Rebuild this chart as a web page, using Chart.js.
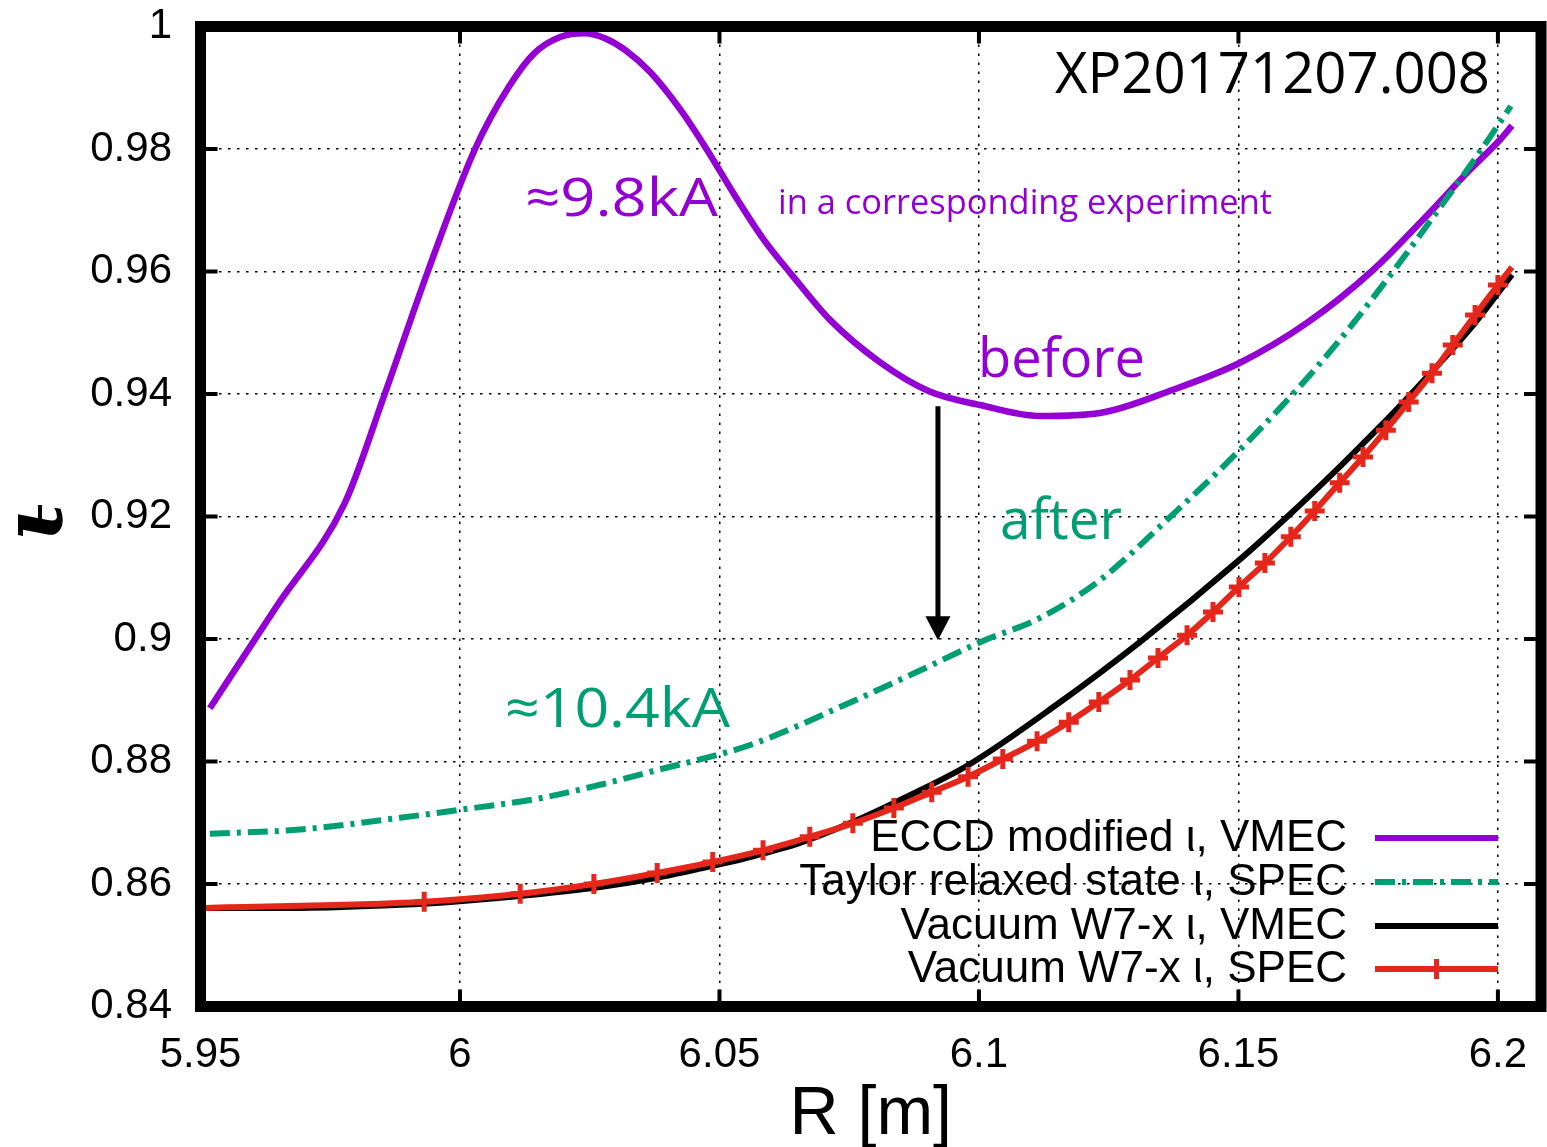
<!DOCTYPE html>
<html>
<head>
<meta charset="utf-8">
<title>W7-X rotational transform profiles</title>
<script src="https://cdn.jsdelivr.net/npm/chart.js@4.4.1/dist/chart.umd.min.js"></script>
<style>
  html, body { margin: 0; padding: 0; background: #fff; }
  #wrap { width: 1547px; height: 1147px; }
</style>
</head>
<body>
<div id="wrap"><canvas id="iota" width="1547" height="1147"></canvas></div>
<script>
/* ----------------------------------------------------
   DATA
---------------------------------------------------- */
const xTicks = [5.95, 6.0, 6.05, 6.1, 6.15, 6.2];
const yTicks = [0.84, 0.86, 0.88, 0.90, 0.92, 0.94, 0.96, 0.98, 1.0];

const seriesLabels = [
    'ECCD modified \u03b9, VMEC',
    'Taylor relaxed state \u03b9, SPEC',
    'Vacuum W7-x \u03b9, VMEC',
    'Vacuum W7-x \u03b9, SPEC'
];

// ECCD modified iota, VMEC
const eccdR = [5.9518, 5.9648, 5.9778, 5.9855, 5.9938, 6.0029, 6.0096, 6.0144, 6.0193, 6.0241,
    6.0279, 6.0318, 6.0366, 6.0424, 6.0475, 6.0529, 6.0587, 6.0639, 6.0713, 6.0809,
    6.0905, 6.1002, 6.1118, 6.1233, 6.1374, 6.1503, 6.1632, 6.1759, 6.1855, 6.1946,
    6.2004, 6.2027];
const eccdIota = [0.8887, 0.9055, 0.9222, 0.9400, 0.9600, 0.9800, 0.9904, 0.9957, 0.9983, 0.9989,
    0.9981, 0.9962, 0.9926, 0.9865, 0.9800, 0.9725, 0.9650, 0.9595, 0.9521, 0.9452,
    0.9404, 0.9382, 0.9364, 0.9369, 0.9407, 0.9451, 0.9516, 0.9602, 0.9684, 0.9766,
    0.9815, 0.9838];

// Taylor relaxed state iota, SPEC
const taylorR = [5.9518, 5.9692, 5.9884, 5.9999, 6.0154, 6.0270, 6.0366, 6.0559, 6.0751, 6.0880,
    6.1011, 6.1117, 6.1233, 6.1368, 6.1483, 6.1605, 6.1695, 6.1798, 6.1888, 6.1969, 6.2025];
const taylorIota = [0.8682, 0.8689, 0.8708, 0.8721, 0.8740, 0.8762, 0.8783, 0.8827, 0.8896, 0.8946,
    0.8998, 0.9034, 0.9096, 0.9199, 0.9292, 0.9400, 0.9488, 0.9600, 0.9704, 0.9800, 0.9870];

// Vacuum iota, VMEC
const vmecR = [5.9509, 5.9692, 5.9884, 5.9999, 6.0135, 6.0270, 6.0366, 6.0462, 6.0559, 6.0655,
    6.0751, 6.0867, 6.0983, 6.1150, 6.1310, 6.1503, 6.1592, 6.1696, 6.1773, 6.1825,
    6.1952, 6.2027];
const vmecIota = [0.8561, 0.8561, 0.8566, 0.8572, 0.8582, 0.8595, 0.8608, 0.8625, 0.8644, 0.8667,
    0.8699, 0.8745, 0.8796, 0.8893, 0.8995, 0.9130, 0.9198, 0.9282, 0.9347, 0.9393,
    0.9512, 0.9595];

// Vacuum iota, SPEC
const specR = [5.9509, 5.9931, 6.0116, 6.0258, 6.0380, 6.0487, 6.0584, 6.0674, 6.0757, 6.0836,
    6.0909, 6.0979, 6.1046, 6.1112, 6.1173, 6.1231, 6.1291, 6.1345, 6.1401, 6.1451,
    6.1501, 6.1551, 6.1601, 6.1647, 6.1695, 6.1740, 6.1784, 6.1828, 6.1873, 6.1913,
    6.1956, 6.2000, 6.2027];
const specIota = [0.8561, 0.8571, 0.8584, 0.8600, 0.8618, 0.8636, 0.8655, 0.8677, 0.8699, 0.8724,
    0.8750, 0.8775, 0.8804, 0.8833, 0.8864, 0.8897, 0.8933, 0.8969, 0.9006, 0.9044,
    0.9085, 0.9124, 0.9167, 0.9209, 0.9255, 0.9297, 0.9341, 0.9387, 0.9434, 0.9480,
    0.9529, 0.9578, 0.9607];

// arrow "before" -> "after" (data coordinates)
const arrowR = 6.0921;
const arrowFrom = 0.938;
const arrowTo = 0.8998;

const COLORS = ['#9400d3', '#009e73', '#000000', '#e5261a'];
const GREEN_DASH = [20, 7, 4, 7];

const toXY = (xs, ys) => xs.map((x, i) => ({ x: x, y: ys[i] }));

/* ----------------------------------------------------
   HELPERS
---------------------------------------------------- */
// draw text squeezed horizontally so that it spans a given width
function drawFitted(ctx, text, left, baseline, size, width, color) {
    ctx.save();
    ctx.font = size + 'px "Open Sans"';
    const w = ctx.measureText(text).width;
    ctx.translate(left, baseline);
    ctx.scale(width / w, 1);
    ctx.fillStyle = color;
    ctx.textAlign = 'left';
    ctx.textBaseline = 'alphabetic';
    ctx.fillText(text, 0, 0);
    ctx.restore();
}

/* ----------------------------------------------------
   PLUGINS: gnuplot style frame, legend, annotations
---------------------------------------------------- */
const framePlugin = {
    id: 'gnuplotFrame',
    afterDatasetsDraw(chart) {
        const { ctx, chartArea: a, scales } = chart;
        const x = scales.x, y = scales.y;
        ctx.save();

        // arrow
        const ax = x.getPixelForValue(arrowR);
        const ay0 = y.getPixelForValue(arrowFrom);
        const ay1 = y.getPixelForValue(arrowTo);
        ctx.strokeStyle = '#000';
        ctx.fillStyle = '#000';
        ctx.lineWidth = 5;
        ctx.beginPath();
        ctx.moveTo(ax, ay0);
        ctx.lineTo(ax, ay1 - 20);
        ctx.stroke();
        ctx.beginPath();
        ctx.moveTo(ax, ay1);
        ctx.lineTo(ax - 12.5, ay1 - 24);
        ctx.lineTo(ax + 12.5, ay1 - 24);
        ctx.closePath();
        ctx.fill();

        // inward tick marks on all four sides
        const len = 17;
        ctx.lineWidth = 4;
        ctx.beginPath();
        xTicks.forEach(v => {
            const px = x.getPixelForValue(v);
            if (px <= a.left + 1 || px >= a.right - 1) return;
            ctx.moveTo(px, a.bottom); ctx.lineTo(px, a.bottom - len);
            ctx.moveTo(px, a.top); ctx.lineTo(px, a.top + len);
        });
        yTicks.forEach(v => {
            const py = y.getPixelForValue(v);
            if (py <= a.top + 1 || py >= a.bottom - 1) return;
            ctx.moveTo(a.left, py); ctx.lineTo(a.left + len, py);
            ctx.moveTo(a.right, py); ctx.lineTo(a.right - len, py);
        });
        ctx.stroke();

        // heavy frame
        ctx.lineWidth = 11;
        ctx.lineJoin = 'miter';
        ctx.strokeRect(a.left, a.top, a.right - a.left, a.bottom - a.top);
        ctx.restore();
    },
    afterDraw(chart) {
        const ctx = chart.ctx;
        ctx.save();

        // legend (text right aligned, sample on the right)
        const rows = [838, 882, 926, 969];
        const textRight = 1347, s0 = 1375, s1 = 1498;
        ctx.font = '44px "Liberation Sans", Arial, sans-serif';
        ctx.textAlign = 'right';
        ctx.textBaseline = 'middle';
        seriesLabels.forEach((label, i) => {
            const ry = rows[i];
            ctx.fillStyle = '#000';
            ctx.fillText(label, textRight, ry + 1);
            ctx.strokeStyle = COLORS[i];
            ctx.lineWidth = 6;
            ctx.setLineDash(i === 1 ? GREEN_DASH : []);
            ctx.beginPath();
            ctx.moveTo(s0, ry);
            ctx.lineTo(s1, ry);
            ctx.stroke();
            ctx.setLineDash([]);
            if (i === 3) {
                const cx = (s0 + s1) / 2;
                ctx.lineWidth = 5;
                ctx.beginPath();
                ctx.moveTo(cx - 10, ry); ctx.lineTo(cx + 10, ry);
                ctx.moveTo(cx, ry - 10); ctx.lineTo(cx, ry + 10);
                ctx.stroke();
            }
        });

        // y axis symbol: iota with bar, rotated
        ctx.save();
        ctx.translate(40, 522);
        ctx.rotate(-Math.PI / 2);
        ctx.fillStyle = '#000';
        ctx.font = 'italic bold 84px "DejaVu Serif", serif';
        ctx.textAlign = 'center';
        ctx.textBaseline = 'alphabetic';
        ctx.fillText('\u03b9', 0, 22);
        ctx.restore();
        ctx.strokeStyle = '#000';
        ctx.lineWidth = 4;
        ctx.beginPath();
        ctx.moveTo(40, 505);
        ctx.lineTo(40, 532);
        ctx.stroke();

        // annotations
        drawFitted(ctx, 'XP20171207.008', 1055, 93, 57, 435, '#000');
        drawFitted(ctx, '\u22489.8kA', 525, 216, 53, 193, COLORS[0]);
        drawFitted(ctx, 'in a corresponding experiment', 778, 214, 34, 494, COLORS[0]);
        drawFitted(ctx, 'before', 978, 377, 55, 167, COLORS[0]);
        drawFitted(ctx, 'after', 1000, 539, 56, 122, COLORS[1]);
        drawFitted(ctx, '\u224810.4kA', 505, 727, 54, 225, COLORS[1]);

        ctx.restore();
    }
};

/* ----------------------------------------------------
   CHART
---------------------------------------------------- */
const tickFont = { family: '"Liberation Sans", Arial, sans-serif', size: 42 };
const fmt = v => String(+(+v).toFixed(3));

// the scales add label overflow to the outer margins; the layout padding handles that here
const noEdgePadding = s => {
    s.paddingTop = 0; s.paddingBottom = 0;
    s.paddingLeft = 0; s.paddingRight = 0;
};

const chart = new Chart(document.getElementById('iota'), {
    type: 'line',
    data: {
        datasets: [
            {
                label: seriesLabels[0],
                data: toXY(eccdR, eccdIota),
                borderColor: COLORS[0],
                borderWidth: 6.5,
                pointRadius: 0,
                cubicInterpolationMode: 'monotone',
                order: 4
            },
            {
                label: seriesLabels[1],
                data: toXY(taylorR, taylorIota),
                borderColor: COLORS[1],
                borderWidth: 6,
                borderDash: GREEN_DASH,
                pointRadius: 0,
                cubicInterpolationMode: 'monotone',
                order: 3
            },
            {
                label: seriesLabels[2],
                data: toXY(vmecR, vmecIota),
                borderColor: COLORS[2],
                borderWidth: 6,
                pointRadius: 0,
                cubicInterpolationMode: 'monotone',
                order: 2
            },
            {
                label: seriesLabels[3],
                data: toXY(specR, specIota),
                borderColor: COLORS[3],
                borderWidth: 6,
                pointStyle: 'cross',
                pointRadius: specR.map((_, i) => (i === 0 || i === specR.length - 1) ? 0 : 10),
                pointBorderWidth: 5,
                pointBorderColor: COLORS[3],
                pointBackgroundColor: COLORS[3],
                cubicInterpolationMode: 'monotone',
                order: 1
            }
        ]
    },
    options: {
        responsive: false,
        devicePixelRatio: 1,
        animation: false,
        events: [],
        layout: { padding: { top: 26.5, right: 6, left: 0, bottom: 0 } },
        plugins: {
            legend: { display: false },
            tooltip: { enabled: false }
        },
        scales: {
            x: {
                type: 'linear',
                min: 5.95,
                max: 6.2083,
                afterBuildTicks: s => { s.ticks = xTicks.map(v => ({ value: v })); },
                afterFit: s => { s.height = 140.5; noEdgePadding(s); },
                grid: { color: '#000', lineWidth: 1.5, drawTicks: false, borderDash: [2.5, 6.5] },
                border: { display: false, dash: [2.5, 6.5] },
                ticks: { color: '#000', font: tickFont, padding: 24, maxRotation: 0, callback: fmt },
                title: {
                    display: true,
                    text: 'R [m]',
                    color: '#000',
                    font: { family: '"Liberation Sans", Arial, sans-serif', size: 68, lineHeight: 1 },
                    padding: { top: 0, bottom: -2 }
                }
            },
            y: {
                type: 'linear',
                min: 0.84,
                max: 1.0,
                afterBuildTicks: s => { s.ticks = yTicks.map(v => ({ value: v })); },
                afterFit: s => { s.width = 200.5; noEdgePadding(s); },
                grid: { color: '#000', lineWidth: 1.5, drawTicks: false, borderDash: [2.5, 6.5] },
                border: { display: false, dash: [2.5, 6.5] },
                ticks: { color: '#000', font: tickFont, padding: 28.5, callback: fmt }
            }
        }
    },
    plugins: [framePlugin]
});

// nudge the layout padding so the plot frame lands where the original one is
const frameTarget = { top: 26.5, right: 1541 };
for (let k = 0; k < 3; k++) {
    const a = chart.chartArea;
    const p = chart.options.layout.padding;
    const dTop = frameTarget.top - a.top;
    const dRight = a.right - frameTarget.right;
    if (Math.abs(dTop) < 0.25 && Math.abs(dRight) < 0.25) break;
    chart.options.layout.padding = {
        top: Math.max(0, p.top + dTop),
        right: Math.max(0, p.right + dRight),
        left: p.left,
        bottom: p.bottom
    };
    chart.update();
}
</script>
</body>
</html>
